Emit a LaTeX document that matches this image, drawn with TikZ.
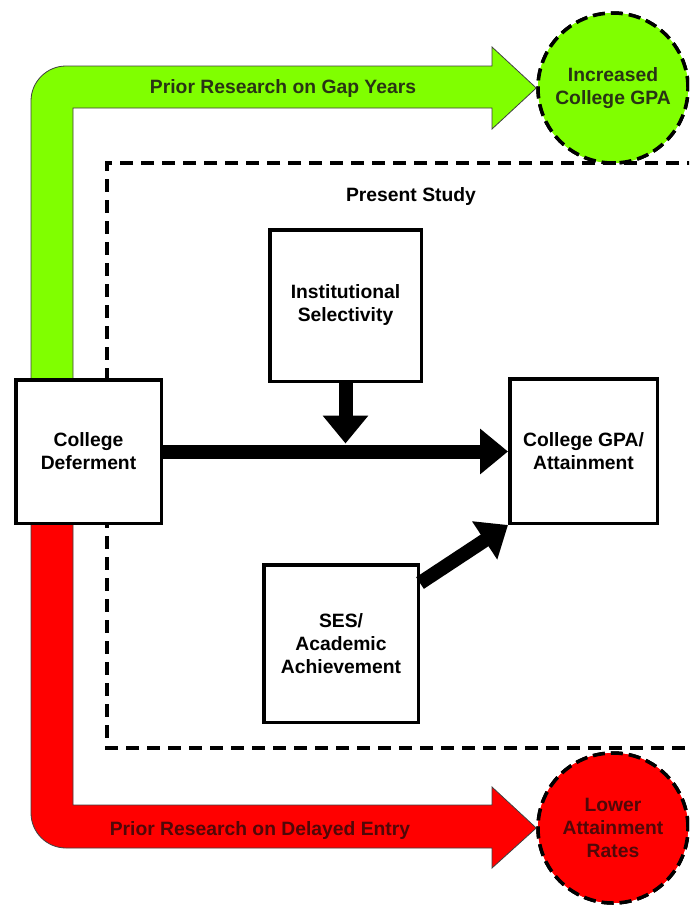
\documentclass[tikz,border=0pt]{standalone}
\usepackage{fontspec}
\setmainfont{Liberation Sans}
\usetikzlibrary{arrows.meta,calc}
\definecolor{limeg}{RGB}{128,255,0}
\definecolor{redf}{RGB}{255,0,0}
\definecolor{gtext}{RGB}{40,52,20}
\definecolor{rtext}{RGB}{80,8,8}
\begin{document}
\begin{tikzpicture}[x=1pt,y=-1pt,
  txt/.style={font=\bfseries\fontsize{19.3}{23}\selectfont, align=center},
  box/.style={txt, draw, line width=3.5pt, fill=white, inner sep=0pt},
  outcome/.style={txt, circle, draw, line width=3.5pt, dash pattern=on 12pt off 6pt, minimum size=150pt, inner sep=0pt},
  bigarrow/.style={line width=14pt, -{Triangle[length=28pt,width=44pt]}},
  band/.style={draw=black!75, line width=0.8pt}
]
\clip (0,0) rectangle (689,905);
\fill[white] (0,0) rectangle (689,905);

% outcome circles (named first for anchors)
\node[outcome, fill=limeg, text=gtext] (gc) at (613,88) {Increased\\College GPA};
\node[outcome, fill=redf, text=rtext] (rc) at (613,828) {Lower\\Attainment\\Rates};

% bent arrows
\draw[band, fill=limeg] (31,420) -- (31,101) .. controls (31,81.7) and (46.7,66) .. (66,66)
  -- (492,66) -- (492,47) -- (gc.west) -- (492,129) -- (492,108) -- (73,108) -- (73,420) -- cycle;
\draw[band, fill=redf] (31,480) -- (31,813) .. controls (31,832.3) and (46.7,848) .. (66,848)
  -- (492,848) -- (492,868) -- (rc.west) -- (492,787) -- (492,805) -- (73,805) -- (73,480) -- cycle;
\node[txt, text=gtext] (gl) at (283,89) {Prior Research on Gap Years};
\node[txt, text=rtext] (rl) at (260,830) {Prior Research on Delayed Entry};

% redraw circles on top of arrow tips
\node[outcome, fill=limeg, text=gtext] at (gc) {Increased\\College GPA};
\node[outcome, fill=redf, text=rtext] at (rc) {Lower\\Attainment\\Rates};

% present study frame
\draw[line width=3.5pt, dash pattern=on 13pt off 8pt] (700,163) -- (107,163) -- (107,748) -- (700,748);
\node[txt] (ps) at (411,197) {Present Study};

% boxes
\node[box, minimum width=145.5pt, minimum height=143.5pt] (cd) at (88.5,451.5) {College\\Deferment};
\node[box, minimum width=147.5pt, minimum height=144.5pt] (cga) at (583.5,451) {College GPA/\\Attainment};
\node[box, minimum width=151.5pt, minimum height=151.5pt] (is) at (345.5,305.5) {Institutional\\Selectivity};
\node[box, minimum width=154.5pt, minimum height=157.5pt] (ses) at (341,643.5) {SES/\\Academic\\Achievement};

% central arrows
\draw[bigarrow] (cd.east) -- (cd.east -| cga.west);
\draw[bigarrow] (is.south) -- ($(is.south |- cd.east)+(0,-8)$);
\draw[bigarrow] ($(ses.north east)+(0,20)$) -- (cga.south west);
\end{tikzpicture}
\end{document}
